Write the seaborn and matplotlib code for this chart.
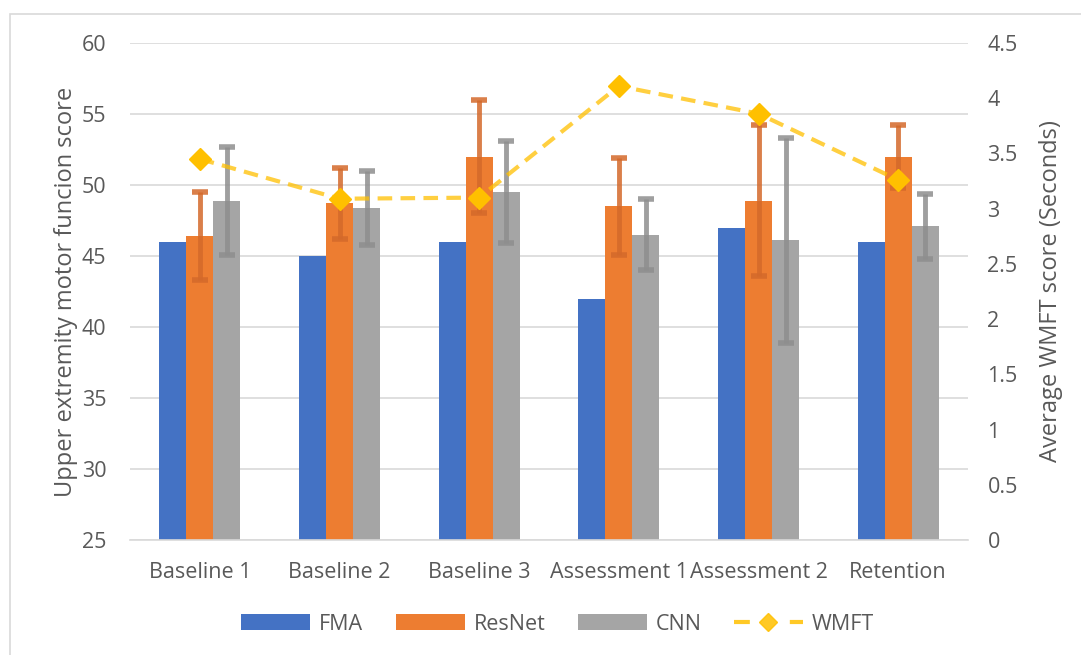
import numpy as np
import pandas as pd
import matplotlib
matplotlib.use("Agg")
import matplotlib.pyplot as plt
import seaborn as sns
from matplotlib.patches import Rectangle, Patch
from matplotlib.lines import Line2D

categories = ["Baseline 1", "Baseline 2", "Baseline 3", "Assessment 1", "Assessment 2", "Retention"]
fma = [46.0, 45.0, 46.0, 42.0, 47.0, 46.0]
resnet = [46.4, 48.7, 52.0, 48.5, 48.9, 52.0]
cnn = [48.9, 48.4, 49.5, 46.5, 46.1, 47.1]
resnet_err = [3.1, 2.5, 4.0, 3.4, 5.3, 2.2]
cnn_err = [3.8, 2.6, 3.6, 2.5, 7.2, 2.3]
wmft = [3.45, 3.09, 3.10, 4.11, 3.86, 3.26]
series = ["FMA", "ResNet", "CNN"]
colors = {"FMA": "#4472C4", "ResNet": "#ED7D31", "CNN": "#A5A5A5"}
err_colors = {"ResNet": "#D4692A", "CNN": "#8E8E8E"}
wmft_color = "#FFC000"

df = pd.DataFrame({
    "Category": categories * 3,
    "Model": sum([[s] * len(categories) for s in series], []),
    "Score": fma + resnet + cnn,
})

sns.set_theme(style="white")
plt.rcParams["font.family"] = ["Open Sans", "DejaVu Sans"]

fig = plt.figure(figsize=(10.81, 6.55), dpi=100)
ax = fig.add_axes([130 / 1081, 1 - 540 / 655, (968 - 130) / 1081, (540 - 43) / 655])

sns.barplot(data=df, x="Category", y="Score", hue="Model", order=categories,
            hue_order=series, palette=colors, width=0.58, gap=0, ax=ax,
            legend=False, saturation=1, errorbar=None, edgecolor="none", zorder=2)

ax.set_ylim(25, 60)
ax.set_xlim(-0.5, len(categories) - 0.5)
ax.set_yticks(np.arange(25, 61, 5))
ax.yaxis.grid(True, color="#D9D9D9", lw=1.2, zorder=0)
ax.set_axisbelow(True)
for s in ["top", "left", "right"]:
    ax.spines[s].set_visible(False)
ax.spines["bottom"].set_color("#D9D9D9")
ax.spines["bottom"].set_linewidth(1.2)
ax.tick_params(axis="both", length=0, labelsize=15.5, colors="#595959")
ax.tick_params(axis="x", pad=16)
ax.tick_params(axis="y", pad=17)
ax.set_xlabel("")
ax.set_ylabel("Upper extremity motor funcion score", fontsize=17, color="#595959", labelpad=3)

# error bars on ResNet and CNN bars
n = len(categories)
patches = [p for p in ax.patches][: 3 * n]
for k, (name, errs, vals) in enumerate([("ResNet", resnet_err, resnet), ("CNN", cnn_err, cnn)], start=1):
    xs = [patches[k * n + i].get_x() + patches[k * n + i].get_width() / 2 for i in range(n)]
    ax.errorbar(xs, vals, yerr=errs, fmt="none", ecolor=err_colors[name], elinewidth=3.5,
                capsize=6, capthick=4, alpha=0.85, zorder=3)

ax2 = ax.twinx()
sns.lineplot(x=np.arange(n), y=wmft, ax=ax2, color=wmft_color, lw=3,
             linestyle=(0, (3.5, 2)), zorder=4)
ax2.lines[0].set_alpha(0.75)
ax2.plot(np.arange(n), wmft, linestyle="none", marker="D", markersize=11,
         color=wmft_color, zorder=5)
ax2.set_ylim(0, 4.5)
ax2.set_xlim(-0.5, n - 0.5)
ticks2 = np.arange(0, 4.51, 0.5)
ax2.set_yticks(ticks2)
ax2.set_yticklabels([("%g" % t) for t in ticks2])
for s in ["top", "left", "right", "bottom"]:
    ax2.spines[s].set_visible(False)
ax2.tick_params(axis="y", length=0, labelsize=15.5, colors="#595959", pad=14)
ax2.set_ylabel("Average WMFT score (Seconds)", fontsize=17, color="#595959", labelpad=15)
ax2.grid(False)

handles = [Patch(facecolor=colors[s], edgecolor="none") for s in series]
handles.append(Line2D([0], [0], color=wmft_color, lw=3, linestyle=(0, (3.8, 9.6)),
                      alpha=0.85, marker="D", markersize=9, markerfacecolor=wmft_color,
                      markeredgecolor=wmft_color))
leg = fig.legend(handles, series + ["WMFT"], loc="center", bbox_to_anchor=(0.516, 1 - 624 / 655),
                 ncol=4, frameon=False, fontsize=15.5, handlelength=3.2, handleheight=0.75,
                 columnspacing=1.5, handletextpad=0.42)
for t in leg.get_texts():
    t.set_color("#595959")

fig.patches.append(Rectangle((10 / 1081, -0.02), 1.1, 1 - 14 / 655 + 0.02,
                             transform=fig.transFigure, fill=False,
                             edgecolor="#D9D9D9", lw=1.2))

fig.savefig("out.png", dpi=100)
